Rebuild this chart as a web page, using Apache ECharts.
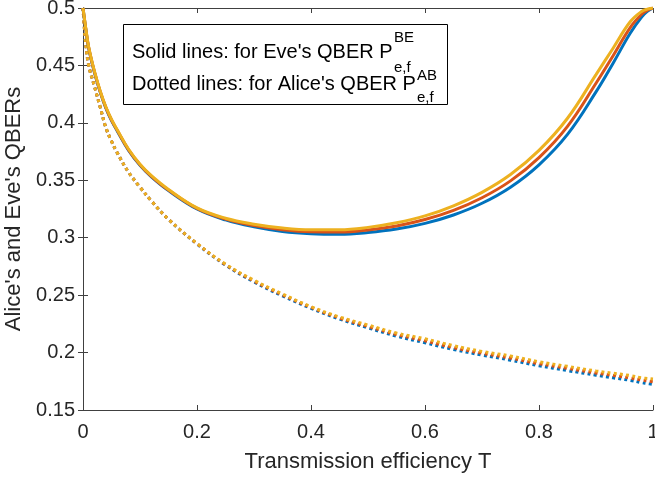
<!DOCTYPE html>
<html>
<head>
<meta charset="utf-8">
<script src="https://cdn.jsdelivr.net/npm/echarts@6.0.0/dist/echarts.min.js"></script>
<style>
  html, body { margin: 0; padding: 0; background: #fff; }
  #chart { width: 655px; height: 480px; }
</style>
</head>
<body>
<div id="chart"></div>
<script>
// transmission efficiency T
const tValues = [0, 0.0025, 0.005, 0.01, 0.02, 0.03, 0.04, 0.05, 0.06, 0.08, 0.1, 0.12, 0.15, 0.2, 0.25, 0.3, 0.35, 0.4, 0.45, 0.5, 0.55, 0.6, 0.65, 0.7, 0.75, 0.8, 0.85, 0.9, 0.93, 0.96, 0.98, 0.99, 1]

// Eve's QBER (solid lines)
const eveBlue = [0.5, 0.49, 0.481, 0.465, 0.444, 0.427, 0.413, 0.402, 0.393, 0.376, 0.363, 0.353, 0.341, 0.325, 0.3155, 0.3095, 0.3055, 0.3035, 0.303, 0.3045, 0.3075, 0.3125, 0.3198, 0.330, 0.344, 0.3635, 0.390, 0.427, 0.452, 0.478, 0.492, 0.497, 0.5]
const eveOrange = [0.5, 0.4905, 0.4815, 0.4655, 0.4445, 0.4275, 0.4135, 0.4025, 0.3935, 0.3765, 0.3635, 0.3535, 0.3415, 0.3255, 0.3162, 0.3106, 0.307, 0.3052, 0.305, 0.3068, 0.3102, 0.3158, 0.3238, 0.3348, 0.3495, 0.3698, 0.397, 0.4345, 0.4585, 0.483, 0.4945, 0.498, 0.5]
const eveYellow = [0.5, 0.491, 0.482, 0.466, 0.445, 0.428, 0.414, 0.403, 0.394, 0.377, 0.364, 0.354, 0.342, 0.326, 0.317, 0.3118, 0.3085, 0.307, 0.307, 0.309, 0.313, 0.319, 0.3278, 0.3395, 0.355, 0.376, 0.404, 0.442, 0.465, 0.488, 0.497, 0.499, 0.5]

// Alice's QBER (dotted lines)
const aliceBlue = [0.5, 0.482, 0.468, 0.45, 0.432, 0.414, 0.396, 0.384, 0.374, 0.357, 0.344, 0.332, 0.316, 0.2945, 0.2762, 0.2615, 0.2493, 0.2385, 0.2292, 0.2215, 0.2143, 0.2085, 0.2027, 0.1978, 0.1934, 0.1885, 0.1843, 0.1803, 0.178, 0.1758, 0.1738, 0.173, 0.1722]
const aliceOrange = [0.5, 0.482, 0.468, 0.45, 0.432, 0.414, 0.396, 0.384, 0.374, 0.357, 0.344, 0.332, 0.316, 0.2948, 0.2766, 0.2622, 0.2502, 0.2393, 0.2301, 0.2227, 0.2157, 0.2102, 0.2043, 0.1994, 0.1952, 0.1903, 0.1862, 0.1822, 0.1801, 0.1779, 0.1761, 0.1754, 0.1746]
const aliceYellow = [0.5, 0.482, 0.468, 0.45, 0.432, 0.414, 0.396, 0.384, 0.374, 0.357, 0.344, 0.332, 0.316, 0.295, 0.277, 0.263, 0.251, 0.240, 0.231, 0.224, 0.217, 0.212, 0.206, 0.201, 0.197, 0.192, 0.188, 0.184, 0.182, 0.180, 0.178, 0.1775, 0.177]

const colors = ['#0072BD', '#D95319', '#EDB120']
const font = 'Liberation Sans, Arial, Helvetica, sans-serif'
const axisColor = '#404040'

const pairs = (ys) => tValues.map((t, i) => [t, ys[i]])

const solid = (ys, c) => ({
  type: 'line',
  data: pairs(ys),
  showSymbol: false,
  smooth: 0.4,
  lineStyle: { color: c, width: 3 },
  z: 3
})

const dotted = (ys, c) => ({
  type: 'line',
  data: pairs(ys),
  showSymbol: false,
  smooth: 0.4,
  lineStyle: { color: c, width: 3, type: [3, 3.2], cap: 'butt' },
  z: 2
})

const fmt = (v) => String(parseFloat(v.toFixed(2)))

const chart = echarts.init(document.getElementById('chart'))

chart.setOption({
  animation: false,
  backgroundColor: '#fff',
  grid: { left: 83, right: 2, top: 8, bottom: 70, containLabel: false, outerBoundsMode: 'none' },
  xAxis: [
    {
      type: 'value',
      min: 0,
      max: 1,
      interval: 0.2,
      name: 'Transmission efficiency T',
      nameLocation: 'middle',
      nameGap: 41,
      nameTextStyle: { fontFamily: font, fontSize: 22, color: '#262626' },
      axisLine: { show: true, lineStyle: { color: axisColor, width: 1 } },
      axisTick: { show: true, inside: true, length: 5, lineStyle: { color: axisColor } },
      axisLabel: { margin: 12, fontFamily: font, fontSize: 20, color: '#262626', formatter: fmt, hideOverlap: false },
      splitLine: { show: false }
    },
    {
      type: 'value',
      position: 'top',
      min: 0,
      max: 1,
      interval: 0.2,
      axisLine: { show: true, lineStyle: { color: axisColor, width: 1 } },
      axisTick: { show: true, inside: true, length: 5, lineStyle: { color: axisColor } },
      axisLabel: { show: false },
      splitLine: { show: false }
    }
  ],
  yAxis: [
    {
      type: 'value',
      min: 0.15,
      max: 0.5,
      interval: 0.05,
      name: "Alice's and Eve's QBERs",
      nameLocation: 'middle',
      nameGap: 54,
      nameTextStyle: { fontFamily: font, fontSize: 22, color: '#262626' },
      axisLine: { show: true, lineStyle: { color: axisColor, width: 1 } },
      axisTick: { show: true, inside: true, length: 5, lineStyle: { color: axisColor } },
      axisLabel: { margin: 8, fontFamily: font, fontSize: 20, color: '#262626', formatter: fmt },
      splitLine: { show: false }
    },
    {
      type: 'value',
      position: 'right',
      min: 0.15,
      max: 0.5,
      interval: 0.05,
      axisLine: { show: true, lineStyle: { color: axisColor, width: 1 } },
      axisTick: { show: true, inside: true, length: 5, lineStyle: { color: axisColor } },
      axisLabel: { show: false },
      splitLine: { show: false }
    }
  ],
  series: [
    dotted(aliceBlue, colors[0]),
    dotted(aliceOrange, colors[1]),
    dotted(aliceYellow, colors[2]),
    solid(eveBlue, colors[0]),
    solid(eveOrange, colors[1]),
    solid(eveYellow, colors[2])
  ],
  graphic: [
    {
      type: 'rect',
      shape: { x: 123.5, y: 24.5, width: 324, height: 80 },
      style: { fill: '#fff', stroke: '#000', lineWidth: 1 },
      z: 10
    },
    { type: 'text', z: 11, style: { x: 132, y: 52, text: "Solid lines: for Eve's QBER P", font: '20px ' + font, fill: '#000', verticalAlign: 'middle' } },
    { type: 'text', z: 11, style: { x: 394, y: 38, text: 'BE', font: '15px ' + font, fill: '#000', verticalAlign: 'middle' } },
    { type: 'text', z: 11, style: { x: 394, y: 68, text: 'e,f', font: '15px ' + font, fill: '#000', verticalAlign: 'middle' } },
    { type: 'text', z: 11, style: { x: 132, y: 84, text: "Dotted lines: for Alice's QBER P", font: '20px ' + font, fill: '#000', verticalAlign: 'middle' } },
    { type: 'text', z: 11, style: { x: 417, y: 76, text: 'AB', font: '15px ' + font, fill: '#000', verticalAlign: 'middle' } },
    { type: 'text', z: 11, style: { x: 417, y: 98, text: 'e,f', font: '15px ' + font, fill: '#000', verticalAlign: 'middle' } }
  ]
})
</script>
</body>
</html>
